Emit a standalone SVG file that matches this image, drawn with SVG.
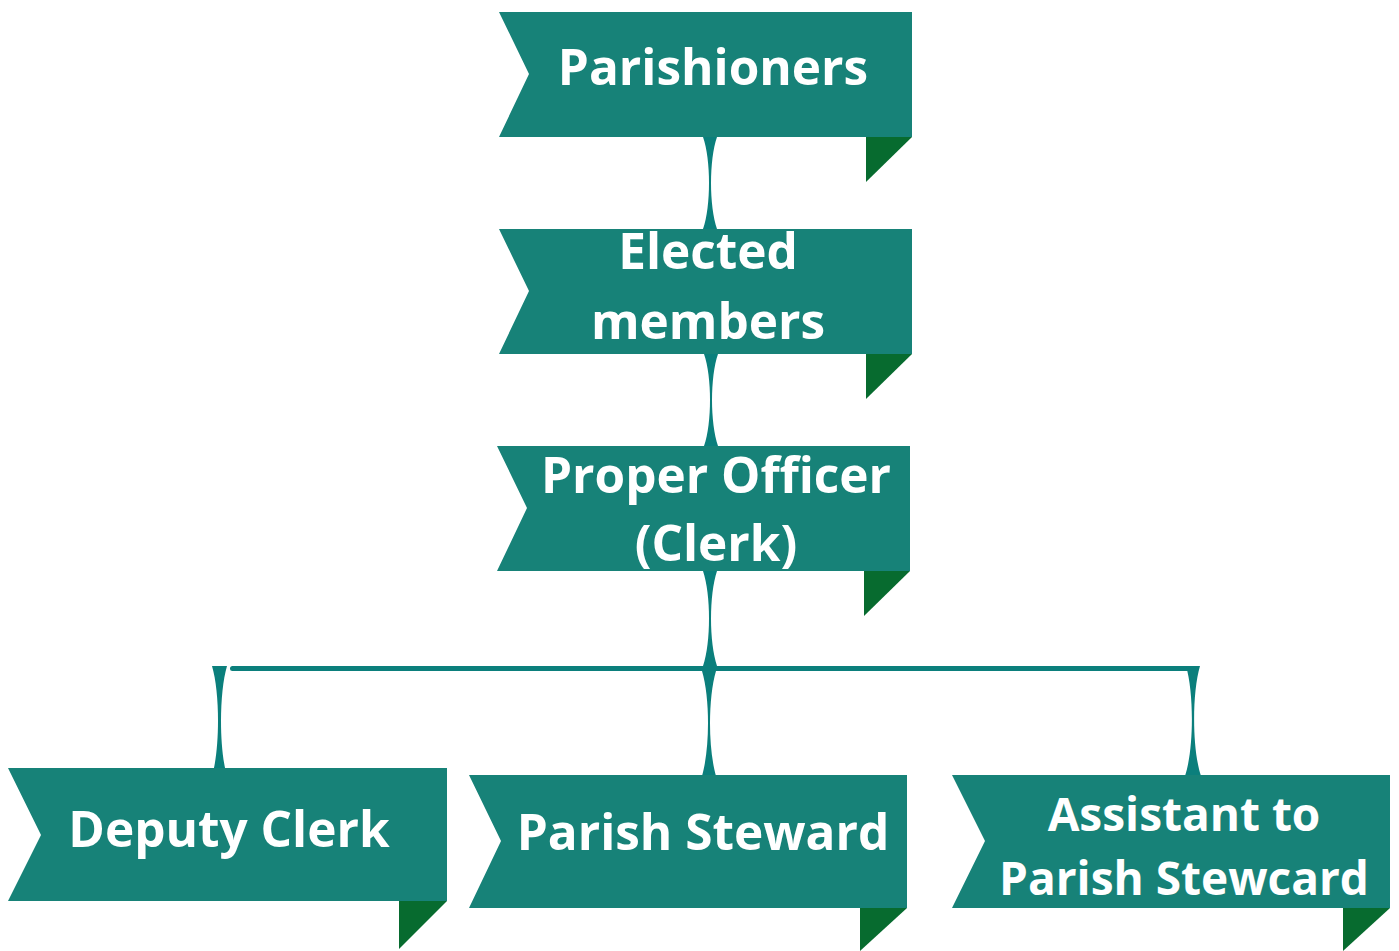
<svg xmlns="http://www.w3.org/2000/svg" width="1399" height="951" viewBox="0 0 1399 951">
<style>
.box{fill:#178278}
.fold{fill:#076b2f}
.con{fill:#0b7f7c}
.t{font-family:"Open Sans","Liberation Sans",sans-serif;font-weight:bold;font-size:49.5px;fill:#ffffff;text-anchor:middle}
.s{font-size:46px}
</style>
<rect width="1399" height="951" fill="#ffffff"/>
<g id="connectors">
<path class="con" d="M703,137 C711,160 711,206 703,229 L717,229 C709,206 709,160 717,137 Z"/>
<path class="con" d="M704,354 C712,377 712,423 704,446 L718,446 C710,423 710,377 718,354 Z"/>
<path class="con" d="M703,571 C711,595 711,642 703,666 L717,666 C709,642 709,595 717,571 Z"/>
<rect class="con" x="230" y="666" width="962" height="5" rx="2.5"/>
<path class="con" d="M702,671 C710,698 710,748 702,776 L716,776 C708,748 708,698 716,671 Z"/>
<path class="con" d="M212,666 C220,693 220,749 212,776 L227,776 C219,749 219,693 227,666 Z"/>
<path class="con" d="M1186,666 C1194,693 1194,749 1185,776 L1201,776 C1192,749 1192,693 1200,666 Z"/>
</g>
<g id="n1">
<polygon class="box" points="499,12 912,12 912,137 499,137 529,74"/>
<polygon class="fold" points="866,137 912,137 866,182"/>
<text class="t" x="713" y="85">Parishioners</text>
</g>
<g id="n2">
<polygon class="box" points="499,229 912,229 912,354 499,354 529,291"/>
<polygon class="fold" points="866,354 912,354 866,399"/>
<text class="t" x="708" y="269">Elected</text>
<text class="t" x="708" y="339">members</text>
</g>
<g id="n3">
<polygon class="box" points="497,446 910,446 910,571 497,571 527,508"/>
<polygon class="fold" points="864,571 910,571 864,616"/>
<text class="t" x="716" y="493">Proper Officer</text>
<text class="t" x="716" y="561">(Clerk)</text>
</g>
<g id="n4">
<polygon class="box" points="8,768 447,768 447,901 8,901 41,835"/>
<polygon class="fold" points="399,901 447,901 399,949"/>
<text class="t" x="229" y="847">Deputy Clerk</text>
</g>
<g id="n5">
<polygon class="box" points="469,775 907,775 907,908 469,908 501,841"/>
<polygon class="fold" points="860,908 907,908 860,951"/>
<text class="t" x="703" y="850">Parish Steward</text>
</g>
<g id="n6">
<polygon class="box" points="952,775 1390,775 1390,908 952,908 985,841"/>
<polygon class="fold" points="1343,908 1390,908 1343,951"/>
<text class="t s" x="1184" y="831">Assistant to</text>
<text class="t s" x="1184" y="895">Parish Stewcard</text>
</g>
</svg>
